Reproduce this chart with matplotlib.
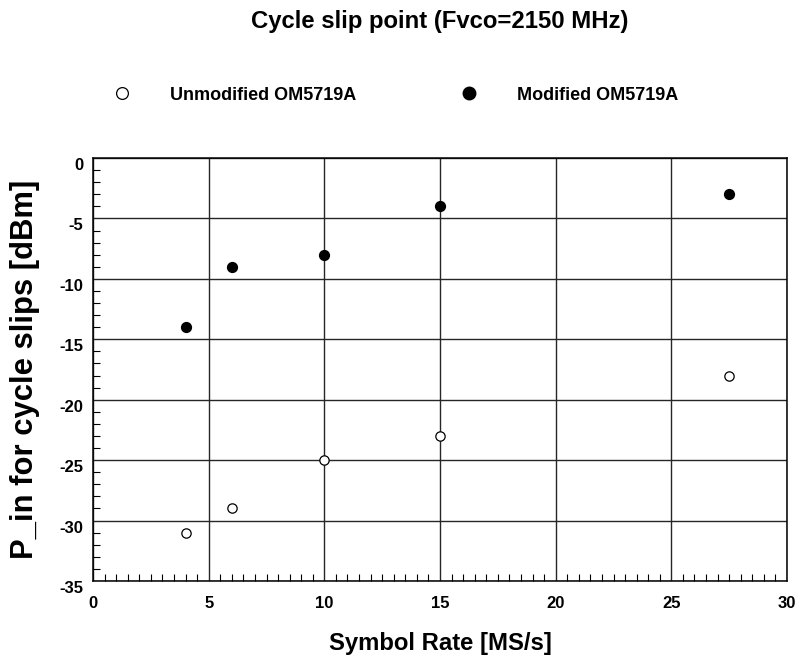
import matplotlib
matplotlib.use("Agg")
import matplotlib.pyplot as plt
from matplotlib.ticker import MultipleLocator

plt.rcParams['font.family'] = ['Liberation Sans', 'DejaVu Sans']
plt.rcParams['font.weight'] = 'bold'
plt.rcParams['axes.unicode_minus'] = False

symbol_rate = [4, 6, 10, 15, 27.5]
p_in_unmodified = [-31, -29, -25, -23, -18]
p_in_modified = [-14, -9, -8, -4, -3]

W, H = 800, 657
fig = plt.figure(figsize=(W / 100, H / 100), dpi=100)
ax = fig.add_axes([93 / W, 1 - 581 / H, 694 / W, 423 / H])

ax.scatter(symbol_rate, p_in_unmodified, s=45, facecolors='white',
           edgecolors='black', linewidths=0.9, zorder=3, clip_on=False)
ax.scatter(symbol_rate, p_in_modified, s=50, color='black', zorder=3,
           clip_on=False)

ax.set_xlim(0, 30)
ax.set_ylim(-35, 0)
ax.xaxis.set_major_locator(MultipleLocator(5))
ax.xaxis.set_minor_locator(MultipleLocator(0.5))
ax.yaxis.set_major_locator(MultipleLocator(5))
ax.yaxis.set_minor_locator(MultipleLocator(1))
ax.grid(True, which='major', color='#262626', linewidth=1.0)
ax.set_axisbelow(True)

ax.tick_params(which='both', direction='in', top=False, right=False)
ax.tick_params(which='major', length=0, labelsize=12)
ax.tick_params(axis='x', which='major', pad=11)
ax.tick_params(axis='y', which='major', pad=7)
ax.tick_params(which='minor', length=5, width=0.8)
for lbl in ax.get_xticklabels() + ax.get_yticklabels():
    lbl.set_fontweight('bold')
for lbl in ax.get_yticklabels():
    lbl.set_verticalalignment('top')
for sp in ax.spines.values():
    sp.set_linewidth(1.1)

ax.set_xlabel('Symbol Rate [MS/s]', fontsize=17.2, fontweight='bold')
ax.xaxis.label.set_verticalalignment('baseline')
ax.xaxis.set_label_coords(0.5, (581 - 650) / 423)

ax.set_ylabel('P_in for cycle slips [dBm]', fontsize=22.3, fontweight='bold')
ax.yaxis.label.set_verticalalignment('baseline')
ax.yaxis.set_label_coords((33 - 93) / 694, 0.5)

fig.text(440 / W, 1 - 28 / H, 'Cycle slip point (Fvco=2150 MHz)', ha='center',
         va='baseline', fontsize=17.2, fontweight='bold')

# legend row above the plot area
leg_y = 1 - 93 / H
fig.add_artist(plt.Line2D([122 / W], [leg_y], marker='o', markersize=8.5,
                          markerfacecolor='white', markeredgecolor='black',
                          markeredgewidth=0.9, linestyle='none',
                          transform=fig.transFigure))
fig.add_artist(plt.Line2D([469 / W], [leg_y], marker='o', markersize=9,
                          color='black', linestyle='none',
                          transform=fig.transFigure))
text_base = 1 - 100 / H
fig.text(170 / W, text_base, 'Unmodified OM5719A', ha='left', va='baseline',
         fontsize=13, fontweight='bold')
fig.text(517 / W, text_base, 'Modified OM5719A', ha='left', va='baseline',
         fontsize=13, fontweight='bold')

fig.savefig('out.png', dpi=100)
